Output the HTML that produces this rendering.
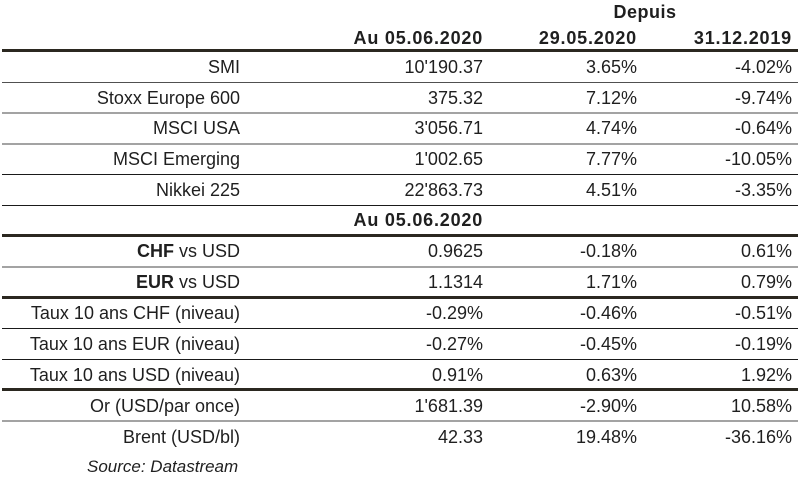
<!DOCTYPE html>
<html>
<head>
<meta charset="utf-8">
<style>
  html, body { margin:0; padding:0; background:#ffffff; }
  body { width:800px; height:478px; position:relative; overflow:hidden;
         font-family:"Liberation Sans", Arial, sans-serif; color:#1f1f1f; }
  .t { position:absolute; height:31px; line-height:31px; font-size:18px; white-space:nowrap; }
  .lab { left:0; width:240px; text-align:right; }
  .c1 { left:300px; width:183px; text-align:right; }
  .c2 { left:480px; width:157px; text-align:right; }
  .c3 { left:640px; width:152px; text-align:right; }
  .b { font-weight:bold; }
  .hd { letter-spacing:0.8px; margin-right:-0.8px; }
  .hl { position:absolute; left:2px; width:796px; }
  .thick { height:3px; background:#2b2820; }
  .blk { height:1px; background:#1a1a1a; }
  .dg { height:1px; background:#505050; }
  .lg { height:2px; background:#a3a3a3; }
</style>
</head>
<body>
  <!-- header -->
  <div class="t b" style="top:-3px; left:580px; width:130px; text-align:center; letter-spacing:0.5px;">Depuis</div>
  <div class="t b c1 hd" style="top:23px;">Au 05.06.2020</div>
  <div class="t b c2 hd" style="top:23px;">29.05.2020</div>
  <div class="t b c3 hd" style="top:23px;">31.12.2019</div>

  <!-- lines -->
  <div class="hl thick" style="top:49px;"></div>
  <div class="hl dg" style="top:82px;"></div>
  <div class="hl lg" style="top:112px;"></div>
  <div class="hl lg" style="top:143px;"></div>
  <div class="hl blk" style="top:174px;"></div>
  <div class="hl blk" style="top:205px;"></div>
  <div class="hl thick" style="top:234px;"></div>
  <div class="hl lg" style="top:266px;"></div>
  <div class="hl thick" style="top:296px;"></div>
  <div class="hl blk" style="top:328px;"></div>
  <div class="hl blk" style="top:359px;"></div>
  <div class="hl thick" style="top:388px;"></div>
  <div class="hl lg" style="top:420px;"></div>

  <!-- rows -->
  <div class="t lab" style="top:51.5px;">SMI</div>
  <div class="t c1" style="top:51.5px;">10'190.37</div>
  <div class="t c2" style="top:51.5px;">3.65%</div>
  <div class="t c3" style="top:51.5px;">-4.02%</div>

  <div class="t lab" style="top:82.5px;">Stoxx Europe 600</div>
  <div class="t c1" style="top:82.5px;">375.32</div>
  <div class="t c2" style="top:82.5px;">7.12%</div>
  <div class="t c3" style="top:82.5px;">-9.74%</div>

  <div class="t lab" style="top:112.5px;">MSCI USA</div>
  <div class="t c1" style="top:112.5px;">3'056.71</div>
  <div class="t c2" style="top:112.5px;">4.74%</div>
  <div class="t c3" style="top:112.5px;">-0.64%</div>

  <div class="t lab" style="top:143.5px;">MSCI Emerging</div>
  <div class="t c1" style="top:143.5px;">1'002.65</div>
  <div class="t c2" style="top:143.5px;">7.77%</div>
  <div class="t c3" style="top:143.5px;">-10.05%</div>

  <div class="t lab" style="top:174.5px;">Nikkei 225</div>
  <div class="t c1" style="top:174.5px;">22'863.73</div>
  <div class="t c2" style="top:174.5px;">4.51%</div>
  <div class="t c3" style="top:174.5px;">-3.35%</div>

  <div class="t b c1 hd" style="top:205px;">Au 05.06.2020</div>

  <div class="t lab" style="top:235.5px;"><b>CHF</b> vs USD</div>
  <div class="t c1" style="top:235.5px;">0.9625</div>
  <div class="t c2" style="top:235.5px;">-0.18%</div>
  <div class="t c3" style="top:235.5px;">0.61%</div>

  <div class="t lab" style="top:266.5px;"><b>EUR</b> vs USD</div>
  <div class="t c1" style="top:266.5px;">1.1314</div>
  <div class="t c2" style="top:266.5px;">1.71%</div>
  <div class="t c3" style="top:266.5px;">0.79%</div>

  <div class="t lab" style="top:297.5px;">Taux 10 ans CHF (niveau)</div>
  <div class="t c1" style="top:297.5px;">-0.29%</div>
  <div class="t c2" style="top:297.5px;">-0.46%</div>
  <div class="t c3" style="top:297.5px;">-0.51%</div>

  <div class="t lab" style="top:328.5px;">Taux 10 ans EUR (niveau)</div>
  <div class="t c1" style="top:328.5px;">-0.27%</div>
  <div class="t c2" style="top:328.5px;">-0.45%</div>
  <div class="t c3" style="top:328.5px;">-0.19%</div>

  <div class="t lab" style="top:359.5px;">Taux 10 ans USD (niveau)</div>
  <div class="t c1" style="top:359.5px;">0.91%</div>
  <div class="t c2" style="top:359.5px;">0.63%</div>
  <div class="t c3" style="top:359.5px;">1.92%</div>

  <div class="t lab" style="top:390.5px;">Or (USD/par once)</div>
  <div class="t c1" style="top:390.5px;">1'681.39</div>
  <div class="t c2" style="top:390.5px;">-2.90%</div>
  <div class="t c3" style="top:390.5px;">10.58%</div>

  <div class="t lab" style="top:421.5px;">Brent (USD/bl)</div>
  <div class="t c1" style="top:421.5px;">42.33</div>
  <div class="t c2" style="top:421.5px;">19.48%</div>
  <div class="t c3" style="top:421.5px;">-36.16%</div>

  <div class="t" style="top:450.5px; left:87px; font-size:17px; font-style:italic;">Source: Datastream</div>
</body>
</html>
